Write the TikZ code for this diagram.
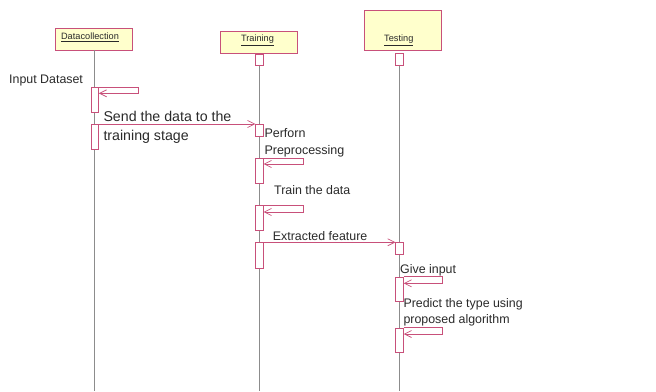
\documentclass[tikz,border=0pt]{standalone}
\usepackage{fontspec}
\setmainfont{Liberation Sans}
\usetikzlibrary{arrows.meta}
\definecolor{umlred}{HTML}{C8507A}
\definecolor{umlfill}{HTML}{FFFFCC}
\definecolor{lifegray}{HTML}{8C8C8C}
\definecolor{txt}{HTML}{2A2A2A}
\begin{document}
\begin{tikzpicture}[x=1pt,y=-1pt,
  objbox/.style={draw=umlred, fill=umlfill, line width=0.8pt, inner sep=0pt, minimum width=77pt},
  bar/.style={draw=umlred, fill=white, line width=0.7pt, minimum width=7.6pt, inner sep=0pt, anchor=north},
  life/.style={draw=lifegray, line width=0.9pt},
  msg/.style={draw=umlred, line width=0.7pt, -{Straight Barb[length=7pt,width=7pt]}},
  selfmsg/.style={draw=umlred, line width=0.7pt, -{Straight Barb[length=7pt,width=7pt]}},
  hdr/.style={text=txt, inner sep=0pt, font=\fontsize{9.2}{11}\selectfont},
  lbl/.style={text=txt, inner sep=0pt, anchor=west, align=left, font=\fontsize{12.4}{16.4}\selectfont},
  biglbl/.style={text=txt, inner sep=0pt, anchor=west, align=left, font=\fontsize{14.2}{18.4}\selectfont},
]
\useasboundingbox (0,0) rectangle (656,391);
\fill[white] (0,0) rectangle (656,391);

% object boxes
\node[objbox, minimum height=22.3pt] (dc) at (94.2,39.15) {};
\node[objbox, minimum height=22.4pt] (tr) at (259.2,42.5) {};
\node[objbox, minimum height=40.7pt] (ts) at (402.8,30.35) {};
\node[hdr] (dclbl) at (90,37.2) {\underline{Datacollection}};
\node[hdr] (trlbl) at (257.5,40.5) {\underline{Training}};
\node[hdr] (tslbl) at (398.8,40.5) {\underline{Testing}};

% lifeline ends
\coordinate (dcend) at (94.7,391);
\coordinate (trend) at (259.5,391);
\coordinate (tsend) at (399.6,391);
\coordinate (dcstart) at (94.7,50.3);

% top small rectangles
\node[bar, minimum height=11.3pt] (t0) at (259.5,53.7) {};
\node[bar, minimum height=11.7pt] (s0) at (399.6,53.3) {};

% lifelines
\draw[life] (dcstart) -- (dcend);
\draw[life] (t0.south) -- (trend);
\draw[life] (s0.south) -- (tsend);

% activation bars
\node[bar, minimum height=24.4pt] (b1) at (94.7,87.3) {};
\node[bar, minimum height=25pt] (b2) at (94.7,124) {};
\node[bar, minimum height=12.3pt] (t1) at (259.5,124) {};
\node[bar, minimum height=24.7pt] (t2) at (259.5,158.3) {};
\node[bar, minimum height=24.7pt] (t3) at (259.5,205.3) {};
\node[bar, minimum height=25.4pt] (t4) at (259.5,242.3) {};
\node[bar, minimum height=11.7pt] (s1) at (399.6,242.3) {};
\node[bar, minimum height=24.3pt] (s2) at (399.6,276.7) {};
\node[bar, minimum height=24.6pt] (s3) at (399.6,327.7) {};

% messages
\draw[selfmsg] (b1.north east) -- ++(39.2,0) -- ++(0,6) -- ++(-39.2,0);
\draw[msg] (b2.north east) -- (t1.north west);
\draw[selfmsg] (t2.north east) -- ++(39.4,0) -- ++(0,5.7) -- ++(-39.4,0);
\draw[selfmsg] (t3.north east) -- ++(39.4,0) -- ++(0,6.7) -- ++(-39.4,0);
\draw[msg] (t4.north east) -- (s1.north west);
\draw[selfmsg] (s2.north east) -- ++(39,0) -- ++(0,6.6) -- ++(-39,0);
\draw[selfmsg] (s3.north east) -- ++(39,0) -- ++(0,6.3) -- ++(-39,0);

% labels
\node[lbl] (l1) at (9,80.7) {Input Dataset};
\node[biglbl] (l2) at (103.3,127.5) {Send the data to the\\training stage};
\node[lbl, font=\fontsize{12.5}{16.7}\selectfont] (l3) at (264.3,142.7) {Perforn\\Preprocessing};
\node[lbl] (l4) at (274,190) {Train the data};
\node[lbl] (l5) at (272.7,236) {Extracted feature};
\node[lbl] (l6) at (400,270) {Give input};
\node[lbl] (l7) at (403.3,312.5) {Predict the type using\\proposed algorithm};
\end{tikzpicture}
\end{document}
